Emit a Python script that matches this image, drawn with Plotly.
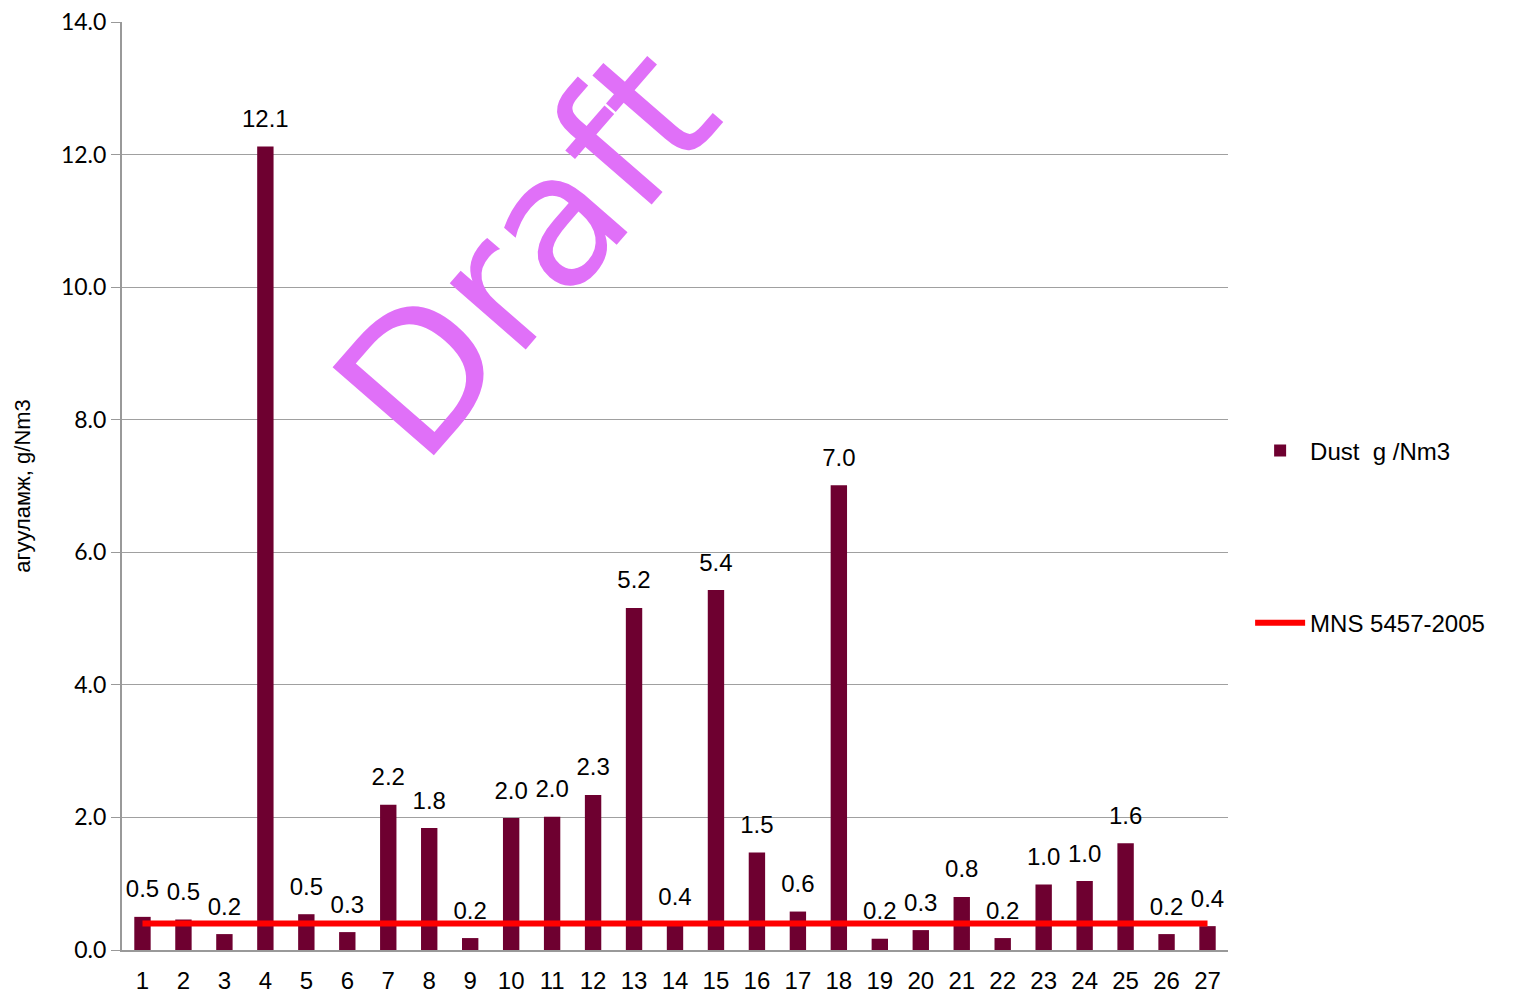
import plotly.graph_objects as go

categories = [str(i) for i in range(1, 28)]
dust = [0.50, 0.46, 0.24, 12.12, 0.54, 0.27, 2.19, 1.84, 0.18, 1.99,
        2.01, 2.34, 5.16, 0.38, 5.43, 1.47, 0.58, 7.01, 0.17, 0.30,
        0.80, 0.18, 0.99, 1.04, 1.61, 0.24, 0.36]
standard = [0.4] * 27
y_ticks = [0, 2, 4, 6, 8, 10, 12, 14]

fig = go.Figure()
fig.add_trace(go.Bar(
    x=categories, y=dust, name="Dust  g /Nm3",
    marker=dict(color="#6E0030", line=dict(width=0)),
    legendgroup="a", hoverinfo="x+y",
))
fig.add_trace(go.Scatter(
    x=categories, y=standard, name="MNS 5457-2005", mode="lines",
    line=dict(color="#FF0000", width=6), legendgroup="b",
))
# data labels above the bars
fig.add_trace(go.Scatter(
    x=categories, y=dust, mode="markers+text", showlegend=False,
    text=[f"{v:.1f}" for v in dust], textposition="top center",
    textfont=dict(family="Liberation Sans, Arial", size=24, color="#000000"),
    marker=dict(size=20, opacity=0), hoverinfo="skip", cliponaxis=False,
))

fig.add_annotation(
    text="Draft", xref="paper", yref="paper", x=0.365, y=0.752,
    xanchor="center", yanchor="middle",
    showarrow=False, textangle=-49,
    font=dict(family="DejaVu Sans", size=184, color="#E070F8"),
)

fig.update_layout(
    width=1518, height=994,
    margin=dict(l=122, r=290, t=22, b=44, autoexpand=False),
    plot_bgcolor="white", paper_bgcolor="white",
    bargap=0.6,
    showlegend=True,
    legend=dict(x=1.02, y=0.562, xanchor="left", yanchor="top",
                font=dict(family="Liberation Sans, Arial", size=24, color="#000000"),
                tracegroupgap=138, traceorder="grouped", itemwidth=50),
    xaxis=dict(
        type="category", range=[-0.5, len(categories) - 0.5],
        showline=True, linecolor="#999999", linewidth=2,
        ticks="", showgrid=False, automargin=False,
        tickfont=dict(family="Liberation Sans, Arial", size=24, color="#000000"),
        ticklabelstandoff=8,
    ),
    yaxis=dict(
        range=[0, 14], tickvals=y_ticks, ticktext=[f"{v:.1f}" for v in y_ticks],
        showline=True, linecolor="#999999", linewidth=2, automargin=False,
        ticks="outside", ticklen=9, tickcolor="#999999", tickwidth=1,
        showgrid=True, gridcolor="#A0A0A0", gridwidth=1,
        zeroline=False,
        tickfont=dict(family="Lato", size=23, color="#000000"),
        title=dict(text="агууламж, g/Nm3", standoff=24,
                   font=dict(family="Liberation Sans, Arial", size=22, color="#000000")),
    ),
)

fig.write_html("out.html")
